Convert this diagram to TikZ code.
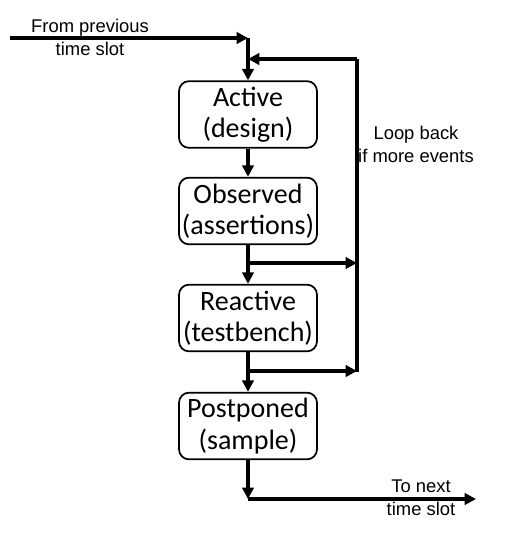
\documentclass[tikz,border=0pt]{standalone}
\usepackage{fontspec}
\setmainfont{Carlito}
\newfontfamily\labelfont{Liberation Sans}
\usetikzlibrary{arrows.meta}
\begin{document}
\begin{tikzpicture}[x=0.75pt,y=-0.75pt,
  stage/.style={draw,line width=1.3pt,rounded corners=7.5pt,minimum width=103.5pt,minimum height=50pt,align=center,font=\fontsize{21}{23.5}\selectfont,inner sep=0pt},
  lbl/.style={align=center,font=\labelfont\fontsize{13.8}{17.3}\selectfont,inner sep=0pt},
  conn/.style={line width=2.3pt,-{Triangle[length=8.5pt,width=8.5pt]}},
  plain/.style={line width=2.3pt}]
\useasboundingbox (0,0) rectangle (513,536);
\node[stage] (a) at (248,114.5) {Active\\(design)};
\node[stage] (o) at (248,211) {Observed\\(assertions)};
\node[stage] (r) at (248,318) {Reactive\\(testbench)};
\node[stage] (p) at (248,426) {Postponed\\(sample)};
\coordinate (inS) at (10,38);
\coordinate (inC) at (248,38);
\coordinate (jn) at (248,59);
\coordinate (lt) at (357,59);
\coordinate (lb) at (357,372);
\coordinate (b1) at (248,263);
\coordinate (r1) at (357,263);
\coordinate (b2) at (248,371);
\coordinate (r2) at (357,371);
\coordinate (outC) at (248,499);
\coordinate (outE) at (476,499);
\draw[conn] (inS) -- (inC);
\draw[conn] (inC) -- (a.north);
\draw[plain] (lb) -- (lt);
\draw[conn] (lt) -- (jn);
\draw[conn] (a.south) -- (o.north);
\draw[conn] (o.south) -- (r.north);
\draw[conn] (b1) -- (r1);
\draw[conn] (r.south) -- (p.north);
\draw[conn] (b2) -- (r2);
\draw[conn] (p.south) -- (outC);
\draw[conn] (outC) -- (outE);
\node[lbl] (t1) at (90,37) {From previous\\time slot};
\node[lbl] (t2) at (416,144) {Loop back\\if more events};
\node[lbl] (t3) at (421,498) {To next\\time slot};
\end{tikzpicture}
\end{document}
